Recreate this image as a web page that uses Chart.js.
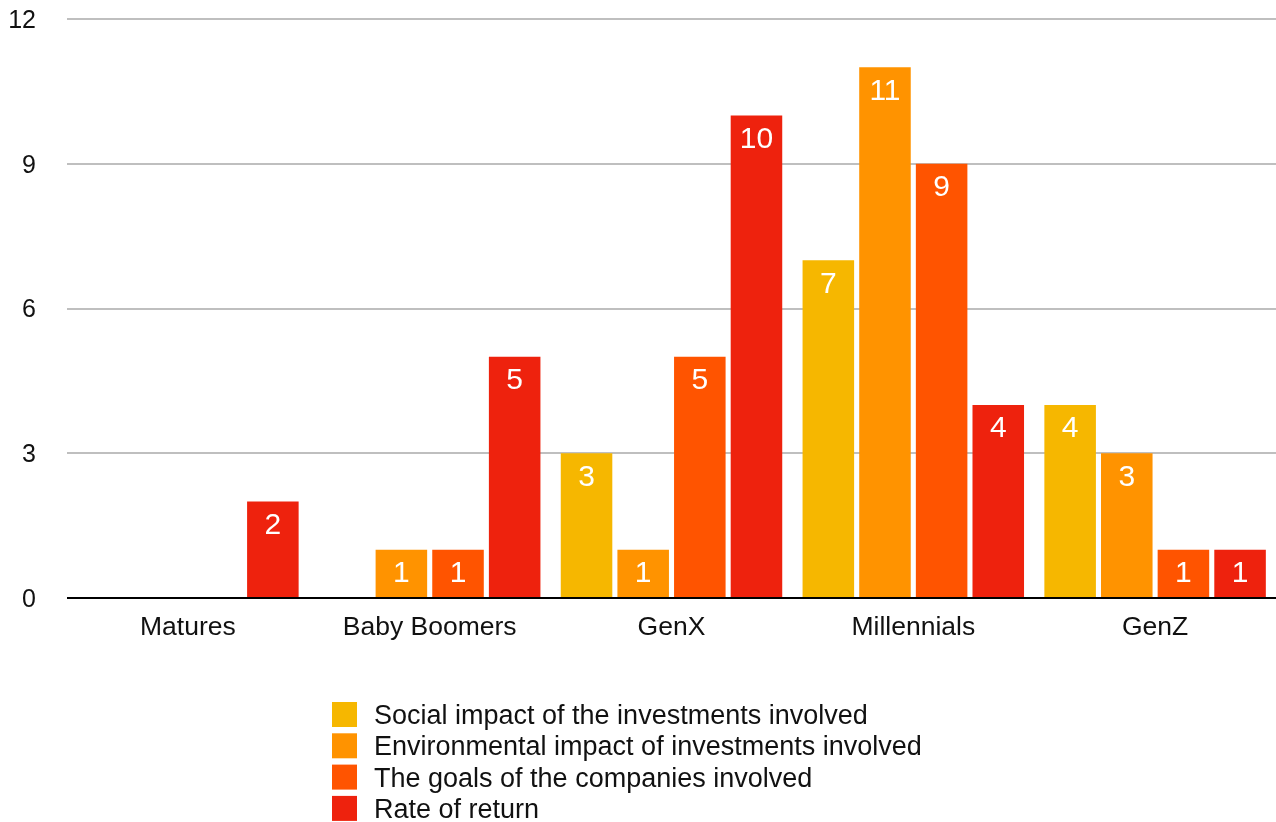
<!DOCTYPE html>
<html>
<head>
<meta charset="utf-8">
<script src="https://cdn.jsdelivr.net/npm/chart.js@4/dist/chart.umd.min.js"></script>
<style>
  html, body { margin: 0; padding: 0; background: #ffffff; }
  #wrap { width: 1276px; height: 822px; }
</style>
</head>
<body>
<div id="wrap"><canvas id="chart" width="1276" height="822"></canvas></div>
<script>
// Generations surveyed
const categories = ['Matures', 'Baby Boomers', 'GenX', 'Millennials', 'GenZ'];

// Series names
const seriesNames = [
  'Social impact of the investments involved',
  'Environmental impact of investments involved',
  'The goals of the companies involved',
  'Rate of return'
];

// Responses per generation
const socialImpact = [0, 0, 3, 7, 4];
const environmentalImpact = [0, 1, 1, 11, 3];
const companyGoals = [0, 1, 5, 9, 1];
const rateOfReturn = [2, 5, 10, 4, 1];

// Value axis ticks
const yTicks = [0, 3, 6, 9, 12];

const seriesColors = ['#F6B700', '#FF9300', '#FF5400', '#EE220D'];
const FONT = '"Liberation Sans", Arial, Helvetica, sans-serif';

// White value labels just inside the top of each bar
const barValueLabels = {
  id: 'barValueLabels',
  afterDatasetsDraw(chart) {
    const ctx = chart.ctx;
    ctx.save();
    ctx.font = '30px ' + FONT;
    ctx.fillStyle = '#ffffff';
    ctx.textAlign = 'center';
    ctx.textBaseline = 'middle';
    chart.data.datasets.forEach((ds, i) => {
      const meta = chart.getDatasetMeta(i);
      meta.data.forEach((bar, j) => {
        const v = ds.data[j];
        if (!v) return;
        ctx.fillText(String(v), bar.x, bar.y + 24);
      });
    });
    ctx.restore();
  }
};

// Stacked legend below the plot, one series per row
const stackedLegend = {
  id: 'stackedLegend',
  afterDraw(chart, args, opts) {
    const ctx = chart.ctx;
    ctx.save();
    ctx.font = opts.fontSize + 'px ' + FONT;
    ctx.textBaseline = 'middle';
    ctx.textAlign = 'left';
    chart.data.datasets.forEach((ds, i) => {
      const yc = opts.top + i * opts.rowGap;
      ctx.fillStyle = ds.backgroundColor;
      ctx.fillRect(opts.left, yc - opts.box / 2, opts.box, opts.box);
      ctx.fillStyle = '#111111';
      ctx.fillText(ds.label, opts.left + opts.textOffset, yc + 2);
    });
    ctx.restore();
  }
};

const dataSeries = [socialImpact, environmentalImpact, companyGoals, rateOfReturn];

new Chart(document.getElementById('chart'), {
  type: 'bar',
  data: {
    labels: categories,
    datasets: dataSeries.map((values, i) => ({
      label: seriesNames[i],
      data: values,
      backgroundColor: seriesColors[i],
      borderWidth: 0,
      categoryPercentage: 0.937,
      barPercentage: 0.91
    }))
  },
  options: {
    responsive: false,
    animation: false,
    layout: { padding: { top: 19, right: 0, bottom: 174, left: 0 } },
    plugins: {
      legend: { display: false },
      tooltip: { enabled: false },
      stackedLegend: { left: 332, top: 714.5, rowGap: 31.3, box: 25, textOffset: 42, fontSize: 27 }
    },
    scales: {
      x: {
        grid: { display: false, drawTicks: false },
        border: { display: false },
        ticks: { color: '#111111', font: { family: FONT, size: 26.5 }, padding: 14 },
        afterFit(scale) {
          scale.height = 50;
          scale.paddingLeft = 0;
          scale.paddingRight = 0;
        }
      },
      y: {
        min: yTicks[0],
        max: yTicks[yTicks.length - 1],
        afterBuildTicks(scale) { scale.ticks = yTicks.map(v => ({ value: v })); },
        grid: {
          drawTicks: false,
          lineWidth: 2,
          color: (c) => (c.tick && c.tick.value === 0 ? '#000000' : '#bfbfbf')
        },
        border: { display: false },
        ticks: { color: '#111111', font: { family: FONT, size: 25 }, padding: 31, labelOffset: 2 },
        afterFit(scale) {
          scale.width = 67;
          scale.paddingTop = 0;
          scale.paddingBottom = 0;
        }
      }
    }
  },
  plugins: [barValueLabels, stackedLegend]
});
</script>
</body>
</html>
